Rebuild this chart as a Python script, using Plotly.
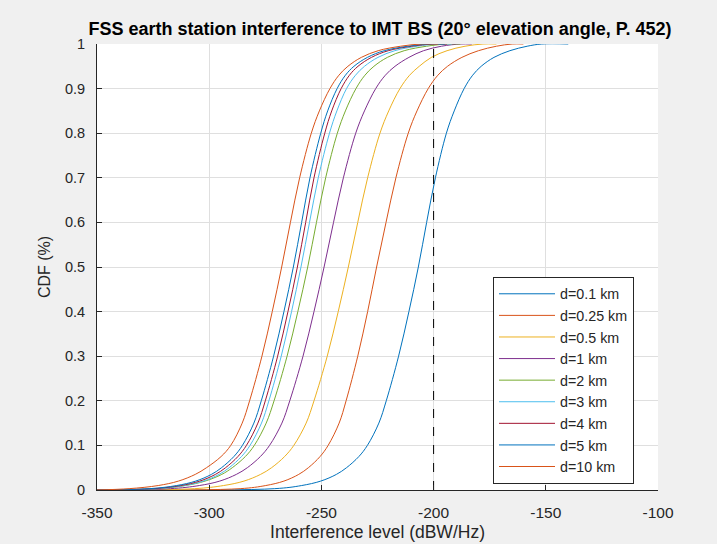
import plotly.graph_objects as go

# CDF levels (shared) and interference levels (dBW/Hz)
cdf_levels = [0, 0.003, 0.01, 0.02, 0.035, 0.05, 0.075, 0.1, 0.15, 0.2, 0.3, 0.4, 0.5,
              0.6, 0.7, 0.8, 0.85, 0.9, 0.93, 0.95, 0.97, 0.985, 0.995, 1.0, 1.0]

series_names = ["d=0.1 km", "d=0.25 km", "d=0.5 km", "d=1 km", "d=2 km",
                "d=3 km", "d=4 km", "d=5 km", "d=10 km"]

x_d01 = [-350, -270.8, -258.8, -250.3, -243.3, -238.8, -233.3, -229.5, -224.4, -221.1, -215.6, -211, -206.8,
         -203.1, -199.2, -194.3, -190.8, -186.4, -182.6, -178.8, -173.1, -166, -158.3, -151.8, -140]
x_d025 = [-350, -286.2, -274.8, -266.7, -260.1, -255.8, -250.6, -247, -242.1, -239, -233.8, -229.4, -225.4,
          -221.2, -216.8, -211.3, -207.4, -202.4, -198.1, -193.8, -187.4, -180, -172, -165, -160]
x_d05 = [-350, -306.5, -293.6, -284.5, -277.1, -272.2, -266.4, -262.3, -256.8, -253.3, -247.4, -242.5, -238,
         -233.8, -229.4, -223.9, -220, -215, -210.7, -206.4, -201, -194, -186, -178, -172]
x_d1 = [-350, -317.3, -304.4, -295.3, -287.9, -283, -277.2, -273.1, -267.6, -264.1, -258.2, -253.3, -248.8,
        -244.6, -240.2, -234.7, -230.8, -225.8, -221.5, -217.2, -211, -204.5, -196.5, -188, -183]
x_d2 = [-350, -323.1, -310.6, -301.8, -294.4, -289.7, -283.9, -279.9, -274.6, -271.1, -265.3, -260.5, -256.1,
        -252.2, -248.1, -242.9, -239.3, -234.6, -230.6, -226.6, -220.6, -213.1, -203.1, -194.1, -188]
x_d3 = [-350, -323.1, -311.1, -302.6, -295.6, -291.1, -285.6, -281.8, -276.7, -273.4, -267.9, -263.3, -259.1,
        -255.3, -251.4, -246.4, -243.1, -238.8, -234.8, -230.8, -224.8, -217.3, -207.3, -198.3, -192]
x_d4 = [-350, -324.7, -312.7, -304.2, -297.2, -292.7, -287.2, -283.4, -278.3, -275, -269.5, -264.9, -260.7,
        -257, -253.3, -248.5, -245.4, -241.2, -237.5, -233.7, -227.7, -220.2, -209.7, -200.7, -194]
x_d5 = [-350, -326.5, -314.5, -306, -299, -294.5, -289, -285.2, -280.1, -276.8, -271.3, -266.7, -262.5,
        -258.8, -255.1, -250.3, -247.2, -243, -239.3, -235.5, -229.5, -222, -211.5, -202.5, -195]
x_d10 = [-350, -335.7, -322.7, -313.7, -306.2, -301.2, -294.7, -290.4, -285.3, -282, -276.5, -271.9, -267.7,
         -263.8, -259.7, -254.5, -250.9, -246.2, -242.2, -238.2, -232.2, -224.7, -214.7, -205.7, -198]

series_x = [x_d01, x_d025, x_d05, x_d1, x_d2, x_d3, x_d4, x_d5, x_d10]
colors = ["#0072BD", "#D95319", "#EDB120", "#7E2F8E", "#77AC30",
          "#4DBEEE", "#A2142F", "#0072BD", "#D95319"]

threshold_x = [-200, -200]
threshold_y = [0, 1]

x_ticks = [-350, -300, -250, -200, -150, -100]
y_ticks = [0, 0.1, 0.2, 0.3, 0.4, 0.5, 0.6, 0.7, 0.8, 0.9, 1]

FONT = "Liberation Sans, Arial, Helvetica, sans-serif"

fig = go.Figure()
for name, xs, c in zip(series_names, series_x, colors):
    fig.add_trace(go.Scatter(x=xs, y=cdf_levels, mode="lines", name=name,
                             line=dict(color=c, width=1, shape="spline", smoothing=1.0)))

fig.add_trace(go.Scatter(x=threshold_x, y=threshold_y, mode="lines", showlegend=False,
                         line=dict(color="black", width=1, dash="dash")))

fig.update_layout(
    width=717, height=544,
    margin=dict(l=97, r=59, t=44, b=54),
    paper_bgcolor="#f0f0f0",
    plot_bgcolor="white",
    font=dict(family=FONT, color="#262626", size=13),
    title=dict(text="<b>FSS earth station interference to IMT BS (20° elevation angle, P. 452)</b>",
               x=380 / 717, xanchor="center", y=1 - 29 / 544, yanchor="middle",
               yref="container", font=dict(size=18, color="black", family=FONT)),
    legend=dict(x=(493 - 97) / 561, y=(490 - 277) / 446, xanchor="left", yanchor="top",
                bgcolor="white", bordercolor="#262626", borderwidth=1,
                font=dict(size=14.3, color="#262626", family=FONT), itemwidth=56),
    showlegend=True,
)

fig.update_xaxes(range=[-350, -100], tickvals=x_ticks, ticktext=[str(v) for v in x_ticks],
                 showgrid=True, gridcolor="#dfdfdf", gridwidth=1, zeroline=False,
                 showline=True, linecolor="#262626", linewidth=1, mirror=False,
                 ticks="inside", ticklen=5, tickcolor="#262626", automargin=False,
                 ticklabelstandoff=8,
                 tickfont=dict(size=15.5, family=FONT, color="#262626"),
                 title=dict(text="Interference level (dBW/Hz)", standoff=6,
                            font=dict(size=17.5, family=FONT, color="#262626")))
fig.update_yaxes(range=[0, 1], tickvals=y_ticks, ticktext=[f"{v:g}" for v in y_ticks],
                 showgrid=True, gridcolor="#dfdfdf", gridwidth=1, zeroline=False,
                 showline=True, linecolor="#262626", linewidth=1, mirror=False,
                 ticks="inside", ticklen=5, tickcolor="#262626", automargin=False,
                 ticklabelstandoff=8,
                 tickfont=dict(size=14.5, family=FONT, color="#262626"),
                 title=dict(text="CDF (%)", standoff=10,
                            font=dict(size=16, family=FONT, color="#262626")))

fig.write_html("out.html")
